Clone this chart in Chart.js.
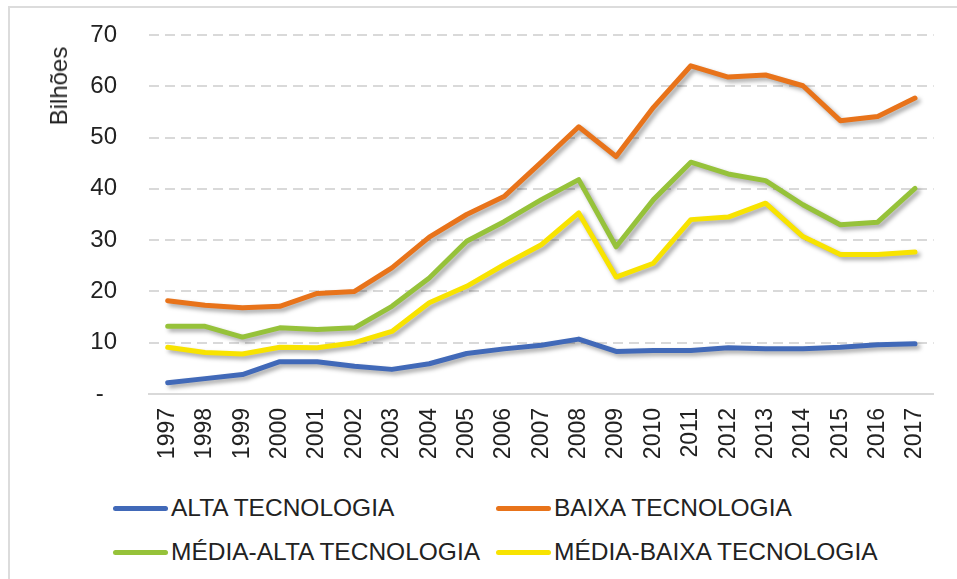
<!DOCTYPE html>
<html>
<head>
<meta charset="utf-8">
<script src="https://cdn.jsdelivr.net/npm/chart.js@4.4.0/dist/chart.umd.min.js"></script>
<style>
  body { margin: 0; background: #fff; font-family: "Liberation Sans", Arial, sans-serif; }
  #wrap { position: relative; width: 957px; height: 579px; overflow: hidden; }
  #frame { position: absolute; left: 8px; top: 6px; width: 1000px; height: 700px; border: 2px solid #dcdcdc; }
  #chartBox { position: absolute; left: 0; top: 0; }
  #yTitle { position: absolute; left: 59px; top: 86px; transform: translate(-50%, -50%) rotate(-90deg);
            font-size: 24px; color: #222; white-space: nowrap; }
  .leg { position: absolute; height: 30px; display: flex; align-items: center; font-size: 24.5px; color: #222; white-space: nowrap; }
  .leg span.sw { display: inline-block; width: 55px; height: 5px; border-radius: 3px; margin-right: 3px; }
</style>
</head>
<body>
<div id="wrap">
  <div id="frame"></div>
  <canvas id="chartBox" width="957" height="480"></canvas>
  <div id="yTitle">Bilhões</div>
  <div id="legend"></div>
</div>
<script>
// data (billions)
const years = ["1997","1998","1999","2000","2001","2002","2003","2004","2005","2006","2007",
  "2008","2009","2010","2011","2012","2013","2014","2015","2016","2017"];
const alta = [2.2, 3.0, 3.8, 6.3, 6.3, 5.4, 4.8, 5.9, 7.9, 8.8, 9.5,
  10.7, 8.3, 8.5, 8.5, 9.0, 8.8, 8.8, 9.1, 9.6, 9.8];
const baixa = [18.2, 17.3, 16.8, 17.1, 19.6, 20.0, 24.6, 30.6, 35.0, 38.5, 45.2,
  52.1, 46.3, 55.9, 64.0, 61.8, 62.2, 60.1, 53.3, 54.1, 57.7];
const mediaAlta = [13.2, 13.2, 11.1, 12.9, 12.6, 12.9, 17.1, 22.6, 29.8, 33.6, 37.9,
  41.8, 28.7, 37.9, 45.2, 42.9, 41.6, 36.9, 33.0, 33.5, 40.1];
const mediaBaixa = [9.1, 8.1, 7.8, 9.1, 9.0, 10.0, 12.2, 17.8, 21.0, 25.2, 29.1,
  35.3, 22.8, 25.5, 34.0, 34.5, 37.2, 30.7, 27.2, 27.2, 27.7];
const yTicks = [0, 10, 20, 30, 40, 50, 60, 70];

const series = [
  { label: "ALTA TECNOLOGIA", data: alta, color: "#4169b8" },
  { label: "BAIXA TECNOLOGIA", data: baixa, color: "#e8731a" },
  { label: "MÉDIA-ALTA TECNOLOGIA", data: mediaAlta, color: "#96c23a" },
  { label: "MÉDIA-BAIXA TECNOLOGIA", data: mediaBaixa, color: "#f8e300" },
];

// soft drop shadow under every line, like the office chart
const shadowPlugin = {
  id: "lineShadow",
  beforeDatasetDraw(chart) {
    const c = chart.ctx;
    c.save();
    c.shadowColor = "rgba(0,0,0,0.35)";
    c.shadowBlur = 4;
    c.shadowOffsetX = 3;
    c.shadowOffsetY = 3;
  },
  afterDatasetDraw(chart) {
    chart.ctx.restore();
  },
};

const ctx = document.getElementById("chartBox");

const chart = new Chart(ctx, {
  type: "line",
  data: {
    labels: years,
    datasets: series.map((s) => ({
      label: s.label,
      data: s.data,
      borderColor: s.color,
      backgroundColor: s.color,
      borderWidth: 5,
      pointRadius: 0,
      tension: 0,
      borderJoinStyle: "round",
      borderCapStyle: "round",
    })),
  },
  options: {
    responsive: false,
    animation: false,
    layout: { padding: { top: 35, left: 0, right: 16, bottom: 0 } },
    plugins: { legend: { display: false }, tooltip: { enabled: false } },
    scales: {
      x: {
        offset: true,
        grid: { display: false, drawTicks: false },
        border: { display: true, color: "#d9d9d9", width: 2 },
        ticks: {
          autoSkip: false,
          minRotation: 90,
          maxRotation: 90,
          padding: 14,
          color: "#222",
          font: { family: "Liberation Sans", size: 23 },
        },
        afterFit(scale) { scale.height = 86; },
      },
      y: {
        min: 0,
        max: 70,
        afterBuildTicks(scale) { scale.ticks = yTicks.map((v) => ({ value: v })); },
        grid: { color: "#d9d9d9", lineWidth: 2, drawTicks: false },
        border: { display: false, dash: [10, 6] },
        ticks: {
          padding: 32,
          color: "#222",
          font: { family: "Liberation Sans", size: 24 },
          callback: (v) => (v === 0 ? "-  " : v),
        },
        afterFit(scale) {
          scale.width = 149;
          // the big tick padding should not push the plot down
          scale.paddingTop = 0;
          scale.paddingBottom = 0;
        },
      },
    },
  },
  plugins: [shadowPlugin],
});

// legend in two columns, built from the datasets
const legendPos = [
  { left: 113, top: 493 }, { left: 496, top: 493 },
  { left: 113, top: 537 }, { left: 496, top: 537 },
];
const legendEl = document.getElementById("legend");
chart.data.datasets.forEach((ds, i) => {
  const item = document.createElement("div");
  item.className = "leg";
  item.style.left = legendPos[i].left + "px";
  item.style.top = legendPos[i].top + "px";
  item.innerHTML = `<span class="sw" style="background:${ds.borderColor}"></span>${ds.label}`;
  legendEl.appendChild(item);
});
</script>
</body>
</html>
